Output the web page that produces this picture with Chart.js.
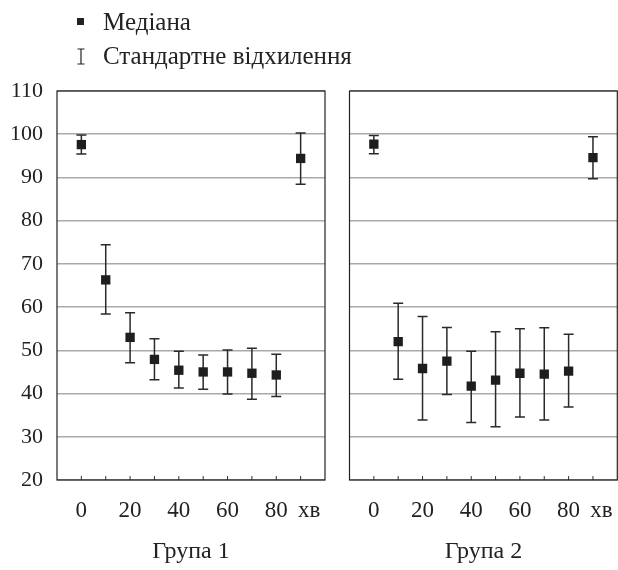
<!DOCTYPE html>
<html>
<head>
<meta charset="utf-8">
<script src="https://cdn.jsdelivr.net/npm/chart.js@4"></script>
<style>
  body { margin: 0; background: #fff; }
  #wrap { position: relative; width: 618px; height: 570px; overflow: hidden; font-family: 'Liberation Serif', serif; color: #222; }
  .panel { position: absolute; top: 0; }
  .leg { position: absolute; left: 103px; font-size: 25px; line-height: 25px; white-space: nowrap; }
  .sq { position: absolute; left: 77px; top: 18px; width: 7px; height: 7px; background: #222; }
</style>
</head>
<body>
<div id="wrap">
  <div class="panel" style="left:0"><canvas id="c1" width="345" height="570"></canvas></div>
  <div class="panel" style="left:335px"><canvas id="c2" width="300" height="570"></canvas></div>
  <div class="sq"></div>
  <div class="leg" style="top:9px">Медіана</div>
  <svg style="position:absolute;left:76px;top:48px" width="10" height="17">
    <path d="M1.5 1 H8.5 M5 1 V16 M1.5 16 H8.5" stroke="#222" stroke-width="1.2" fill="none"/>
  </svg>
  <div class="leg" style="top:43px">Стандартне відхилення</div>
</div>
<script>
document.addEventListener('DOMContentLoaded', function () {
    const minutes = [0, 10, 20, 30, 40, 50, 60, 70, 80, 90];
    const labelTicks = [0, 20, 40, 60, 80];
    const unitLabelAt = 93.5;   // де стоїть підпис "хв"

    const group1Median = [97.6, 66.3, 53.0, 47.9, 45.4, 45.0, 45.0, 44.7, 44.3, 94.4];
    const group1Low    = [95.4, 58.4, 47.1, 43.2, 41.3, 41.0, 39.9, 38.7, 39.3, 88.4];
    const group1High   = [99.8, 74.4, 58.7, 52.7, 49.8, 48.9, 50.1, 50.5, 49.1, 100.3];

    const group2Median = [97.7, 52.0, 45.8, 47.5, 41.7, 43.1, 44.7, 44.5, 45.2, 94.6];
    const group2Low    = [95.5, 43.3, 33.9, 39.8, 33.3, 32.3, 34.6, 33.9, 36.9, 89.7];
    const group2High   = [99.7, 60.9, 57.8, 55.3, 49.8, 54.3, 55.0, 55.2, 53.7, 99.4];

    const FONT = "'Liberation Serif', serif";

    // вуса, внутрішні риски осі x та рамка
    const errorBars = {
        id: 'errorBars',
        beforeDatasetsDraw(chart, args, opts) {
            const { ctx, chartArea, scales: { x, y } } = chart;
            ctx.save();
            ctx.strokeStyle = '#333';
            ctx.lineWidth = 1;
            minutes.forEach(m => {
                const px = x.getPixelForValue(m);
                ctx.beginPath();
                ctx.moveTo(px, chartArea.bottom);
                ctx.lineTo(px, chartArea.bottom - 4);
                ctx.stroke();
            });
            ctx.strokeStyle = '#2a2a2a';
            ctx.lineWidth = 1.5;
            minutes.forEach((m, i) => {
                const px = x.getPixelForValue(m);
                const yl = y.getPixelForValue(opts.low[i]);
                const yh = y.getPixelForValue(opts.high[i]);
                ctx.beginPath();
                ctx.moveTo(px, yl); ctx.lineTo(px, yh);
                ctx.moveTo(px - 5, yl); ctx.lineTo(px + 5, yl);
                ctx.moveTo(px - 5, yh); ctx.lineTo(px + 5, yh);
                ctx.stroke();
            });
            ctx.strokeStyle = '#222';
            ctx.lineWidth = 1.2;
            ctx.strokeRect(chartArea.left, chartArea.top, chartArea.right - chartArea.left, chartArea.bottom - chartArea.top);
            ctx.restore();
        }
    };

    function makePanel(id, title, median, low, high, showY, yWidth, padRight) {
        return new Chart(document.getElementById(id).getContext('2d'), {
            type: 'scatter',
            data: {
                datasets: [{
                    label: 'Медіана',
                    data: minutes.map((m, i) => ({ x: m, y: median[i] })),
                    pointStyle: 'rect',
                    pointRadius: 6.6,
                    pointBorderWidth: 0,
                    backgroundColor: '#1e1e1e',
                    borderColor: '#1e1e1e'
                }]
            },
            options: {
                responsive: false,
                animation: false,
                layout: { padding: { top: 91, right: padRight, left: 0, bottom: 0 } },
                plugins: {
                    legend: { display: false },
                    tooltip: { enabled: false },
                    errorBars: { low: low, high: high }
                },
                scales: {
                    x: {
                        type: 'linear',
                        min: -10,
                        max: 100,
                        afterBuildTicks: scale => {
                            scale.ticks = labelTicks.concat([unitLabelAt]).map(v => ({ value: v }));
                        },
                        afterFit: scale => { scale.height = 90; },
                        grid: { display: false, drawTicks: false },
                        border: { display: false },
                        ticks: {
                            padding: 17,
                            color: '#222',
                            font: { family: FONT, size: 23 },
                            maxRotation: 0,
                            autoSkip: false,
                            callback: v => v === unitLabelAt ? 'хв' : String(v)
                        },
                        title: {
                            display: true,
                            text: title,
                            color: '#222',
                            font: { family: FONT, size: 24 },
                            padding: { top: 0, bottom: 4 }
                        }
                    },
                    y: {
                        min: 20,
                        max: 110,
                        afterFit: scale => { scale.width = yWidth; },
                        grid: { color: '#aaaaaa', lineWidth: 1.5, drawTicks: false },
                        border: { display: false },
                        ticks: {
                            display: showY,
                            stepSize: 10,
                            padding: 14,
                            color: '#222',
                            font: { family: FONT, size: 22 }
                        }
                    }
                }
            },
            plugins: [errorBars]
        });
    }

    makePanel('c1', 'Група 1', group1Median, group1Low, group1High, true, 57, 20);
    makePanel('c2', 'Група 2', group2Median, group2Low, group2High, false, 14.5, 17.7);
});
</script>
</body>
</html>
